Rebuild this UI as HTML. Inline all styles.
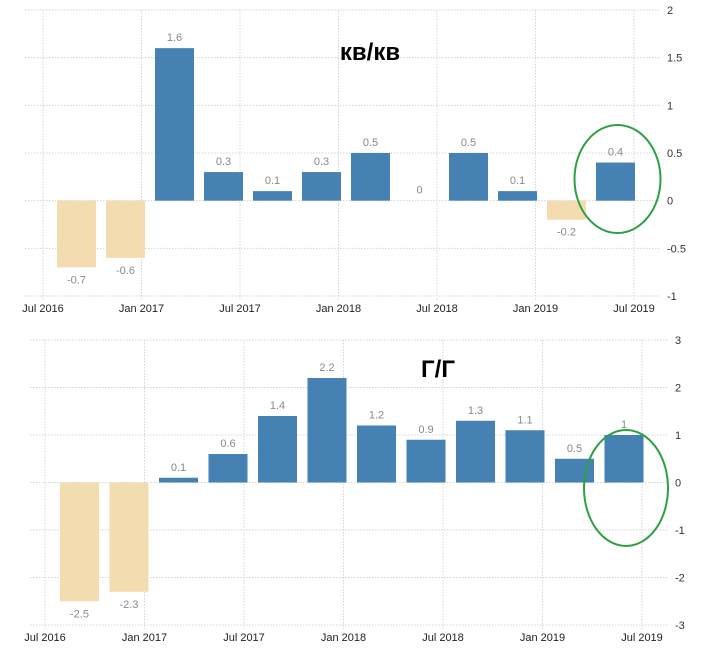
<!DOCTYPE html>
<html><head><meta charset="utf-8">
<style>
body{margin:0;background:#fff;width:720px;height:664px;overflow:hidden;font-family:"Liberation Sans",sans-serif;}
svg text{font-family:"Liberation Sans","DejaVu Sans",sans-serif;}
</style></head>
<body>
<svg id="chart" width="720" height="664" viewBox="0 0 720 664" xmlns="http://www.w3.org/2000/svg"></svg>
<script>
const qoqCategories = ["Q3 2016","Q4 2016","Q1 2017","Q2 2017","Q3 2017","Q4 2017","Q1 2018","Q2 2018","Q3 2018","Q4 2018","Q1 2019","Q2 2019"];
const qoqValues = [-0.7,-0.6,1.6,0.3,0.1,0.3,0.5,0,0.5,0.1,-0.2,0.4];
const qoqTicks = [2,1.5,1,0.5,0,-0.5,-1];
const yoyValues = [-2.5,-2.3,0.1,0.6,1.4,2.2,1.2,0.9,1.3,1.1,0.5,1];
const yoyTicks = [3,2,1,0,-1,-2,-3];
const dateLabels = ["Jul 2016","Jan 2017","Jul 2017","Jan 2018","Jul 2018","Jan 2019","Jul 2019"];

const NS = "http://www.w3.org/2000/svg";
const svg = document.getElementById('chart');
function mk(tag, attrs, parent){
  const e = document.createElementNS(NS, tag);
  for (const k in attrs) e.setAttribute(k, attrs[k]);
  (parent||svg).appendChild(e);
  return e;
}
function draw(cfg){
  const g = mk('g', {});
  
  
  const yMax = cfg.ticks[0], yMin = cfg.ticks[cfg.ticks.length-1];
  const y = v => cfg.top + (yMax - v) / (yMax - yMin) * (cfg.bottom - cfg.top);
  const x = i => cfg.x0 + i * cfg.pitch;
  // horizontal grid + y labels
  cfg.ticks.forEach(t => {
    const l = mk('line', {x1:cfg.left, x2:cfg.right, y1:y(t), y2:y(t), stroke:'#d4d4d4', 'stroke-dasharray':'1.5,1.5'}, g);
    
    
    const tx = mk('text', {x:cfg.right+7, y:y(t)+4, 'font-size':'11', fill:'#333'}, g);
    
    
    tx.textContent = String(t);
  });
  // vertical grid + x labels
  dateLabels.forEach((d, i) => {
    const vx = cfg.vx0 + i * cfg.vpitch;
    const l = mk('line', {x1:vx, x2:vx, y1:cfg.top, y2:cfg.bottom+4, stroke:'#d4d4d4', 'stroke-dasharray':'1.5,1.5'}, g);
    
    
    const tx = mk('text', {x:vx, y:cfg.bottom+16, 'font-size':'11', fill:'#222', 'text-anchor':'middle'}, g);
    
    
    tx.textContent = d;
  });
  // bars
  cfg.values.forEach((v, i) => {
    const cx = x(i);
    const y0 = y(0), yv = y(v);
    if (v !== 0) {
      const r = mk('rect', {x:cx-19.5, y:Math.min(y0,yv), width:39, height:Math.abs(yv-y0), fill: v < 0 ? '#f2dcb0' : '#4681b3'}, g);
      
      
    }
    const ly = v >= 0 ? yv - 7 : yv + 16;
    const tx = mk('text', {x:cx, y:ly, 'font-size':'11', fill:'#888', 'text-anchor':'middle'}, g);
    
    
    tx.textContent = String(v);
  });
  const t = mk('text', {x:cfg.titleX, y:cfg.titleY, 'font-size':'24', 'font-weight':'bold', fill:'#000', 'text-anchor':'middle'}, g);
  
  
  t.textContent = cfg.title;
  const hl = cfg.values.length - 1;
  const e = mk('ellipse', {cx:x(hl)+2, cy:cfg.ellY, rx:cfg.ellRx, ry:cfg.ellRy, fill:'none', stroke:'#2ea043', 'stroke-width':'2'}, g);
  
  
}
draw({name:'qoq-chart', values:qoqValues, ticks:qoqTicks, top:10, bottom:296, left:25, right:660,
  x0:76.5, pitch:49, vx0:43, vpitch:98.5, title:'кв/кв', titleX:370, titleY:60, ellY:179, ellRx:43, ellRy:54});
draw({name:'yoy-chart', values:yoyValues, ticks:yoyTicks, top:340, bottom:625, left:30, right:668,
  x0:79.5, pitch:49.5, vx0:45, vpitch:99.5, title:'Г/Г', titleX:438, titleY:377, ellY:488, ellRx:42, ellRy:58});
</script>
</body></html>
